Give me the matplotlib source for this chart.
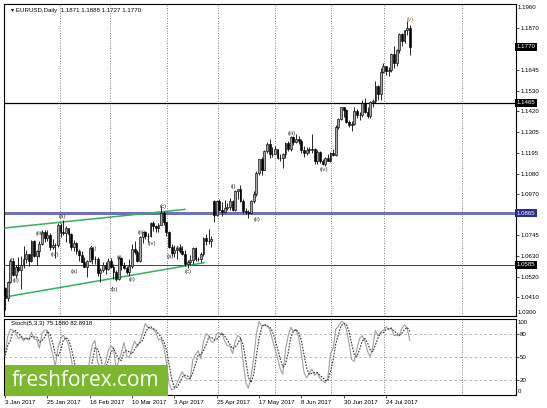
import numpy as np
import matplotlib
matplotlib.use('Agg')
from matplotlib import pyplot as plt
from matplotlib.patches import Rectangle

# EURUSD daily, 3 Jan 2017 .. 4 Aug 2017 (bar index = trading day)
close = [1.0405, 1.0490, 1.0605, 1.0530, 1.0575, 1.0555, 1.0585, 1.0615, 1.0645, 1.0605,
         1.0715, 1.0635, 1.0660, 1.0700, 1.0765, 1.0730, 1.0745, 1.0680, 1.0695, 1.0690,
         1.0800, 1.0765, 1.0760, 1.0785, 1.0750, 1.0680, 1.0705, 1.0660, 1.0640, 1.0600,
         1.0575, 1.0605, 1.0675, 1.0615, 1.0615, 1.0540, 1.0555, 1.0585, 1.0560, 1.0605,
         1.0575, 1.0545, 1.0505, 1.0620, 1.0585, 1.0570, 1.0545, 1.0580, 1.0670, 1.0655,
         1.0605, 1.0735, 1.0765, 1.0740, 1.0740, 1.0810, 1.0795, 1.0785, 1.0800, 1.0865,
         1.0815, 1.0765, 1.0680, 1.0650, 1.0665, 1.0675, 1.0660, 1.0645, 1.0590, 1.0600,
         1.0610, 1.0675, 1.0615, 1.0615, 1.0645, 1.0730, 1.0715, 1.0715, 1.0725, 1.0855,
         1.0930, 1.0880, 1.0870, 1.0895, 1.0900, 1.0930, 1.0880, 1.0985, 1.0995, 1.0930,
         1.0875, 1.0870, 1.0865, 1.0930, 1.0970, 1.1085, 1.1160, 1.1100, 1.1205, 1.1240,
         1.1185, 1.1185, 1.1215, 1.1165, 1.1165, 1.1185, 1.1245, 1.1215, 1.1280, 1.1250,
         1.1270, 1.1260, 1.1210, 1.1195, 1.1210, 1.1210, 1.1215, 1.1150, 1.1200, 1.1150,
         1.1130, 1.1165, 1.1150, 1.1195, 1.1180, 1.1335, 1.1375, 1.1440, 1.1425, 1.1360,
         1.1345, 1.1350, 1.1420, 1.1400, 1.1400, 1.1465, 1.1415, 1.1395, 1.1470, 1.1475,
         1.1555, 1.1515, 1.1635, 1.1665, 1.1640, 1.1645, 1.1730, 1.1680, 1.1750, 1.1840,
         1.1800, 1.1860, 1.1870, 1.1770]
high = [1.0465, 1.0495, 1.0615, 1.0620, 1.0585, 1.0625, 1.0630, 1.0685, 1.0665, 1.0640,
        1.0720, 1.0720, 1.0665, 1.0715, 1.0775, 1.0775, 1.0775, 1.0760, 1.0725, 1.0705,
        1.0810, 1.0810, 1.0829, 1.0795, 1.0780, 1.0755, 1.0720, 1.0710, 1.0670, 1.0660,
        1.0625, 1.0610, 1.0680, 1.0680, 1.0635, 1.0625, 1.0570, 1.0600, 1.0600, 1.0620,
        1.0620, 1.0590, 1.0555, 1.0635, 1.0625, 1.0600, 1.0580, 1.0615, 1.0700, 1.0715,
        1.0665, 1.0740, 1.0765, 1.0770, 1.0760, 1.0820, 1.0825, 1.0800, 1.0810, 1.0906,
        1.0875, 1.0815, 1.0770, 1.0700, 1.0690, 1.0680, 1.0700, 1.0685, 1.0665, 1.0610,
        1.0640, 1.0680, 1.0680, 1.0625, 1.0655, 1.0735, 1.0750, 1.0780, 1.0740, 1.0937,
        1.0935, 1.0945, 1.0925, 1.0935, 1.0920, 1.0950, 1.0935, 1.0990, 1.0995, 1.1020,
        1.0940, 1.0895, 1.0885, 1.0935, 1.0985, 1.1095, 1.1160, 1.1170, 1.1210, 1.1250,
        1.1268, 1.1225, 1.1230, 1.1215, 1.1185, 1.1190, 1.1250, 1.1255, 1.1285, 1.1285,
        1.1296, 1.1285, 1.1270, 1.1230, 1.1225, 1.1225, 1.1296, 1.1220, 1.1210, 1.1205,
        1.1160, 1.1170, 1.1185, 1.1200, 1.1215, 1.1345, 1.1385, 1.1445, 1.1440, 1.1430,
        1.1370, 1.1365, 1.1440, 1.1430, 1.1415, 1.1480, 1.1490, 1.1445, 1.1475, 1.1485,
        1.1585, 1.1560, 1.1655, 1.1680, 1.1665, 1.1660, 1.1735, 1.1775, 1.1755, 1.1845,
        1.1845, 1.1860, 1.1910, 1.1888]
low = [1.0340, 1.0390, 1.0485, 1.0525, 1.0515, 1.0545, 1.0455, 1.0570, 1.0595, 1.0580,
       1.0600, 1.0625, 1.0585, 1.0625, 1.0695, 1.0710, 1.0715, 1.0665, 1.0670, 1.0620,
       1.0680, 1.0735, 1.0745, 1.0710, 1.0705, 1.0665, 1.0660, 1.0645, 1.0605, 1.0600,
       1.0575, 1.0520, 1.0600, 1.0590, 1.0590, 1.0525, 1.0494, 1.0545, 1.0535, 1.0555,
       1.0570, 1.0510, 1.0495, 1.0500, 1.0555, 1.0560, 1.0535, 1.0525, 1.0570, 1.0645,
       1.0600, 1.0600, 1.0705, 1.0725, 1.0710, 1.0735, 1.0770, 1.0765, 1.0765, 1.0800,
       1.0800, 1.0740, 1.0675, 1.0635, 1.0625, 1.0615, 1.0650, 1.0640, 1.0580, 1.0570,
       1.0585, 1.0590, 1.0605, 1.0605, 1.0600, 1.0630, 1.0695, 1.0700, 1.0680, 1.0820,
       1.0850, 1.0875, 1.0850, 1.0865, 1.0885, 1.0885, 1.0875, 1.0875, 1.0940, 1.0925,
       1.0865, 1.0860, 1.0840, 1.0860, 1.0920, 1.0960, 1.1075, 1.1075, 1.1100, 1.1190,
       1.1165, 1.1170, 1.1185, 1.1160, 1.1150, 1.1110, 1.1165, 1.1205, 1.1205, 1.1235,
       1.1245, 1.1240, 1.1195, 1.1170, 1.1180, 1.1190, 1.1195, 1.1130, 1.1135, 1.1140,
       1.1125, 1.1120, 1.1150, 1.1145, 1.1175, 1.1175, 1.1325, 1.1370, 1.1390, 1.1355,
       1.1335, 1.1310, 1.1345, 1.1380, 1.1370, 1.1390, 1.1410, 1.1385, 1.1380, 1.1440,
       1.1465, 1.1480, 1.1480, 1.1625, 1.1615, 1.1610, 1.1630, 1.1655, 1.1665, 1.1735,
       1.1775, 1.1790, 1.1835, 1.1727]
first_open = 1.0456
gap_opens = {79: 1.0930, 153: 1.1871}

date_labels = ['3 Jan 2017', '25 Jan 2017', '16 Feb 2017', '10 Mar 2017', '3 Apr 2017',
               '25 Apr 2017', '17 May 2017', '8 Jun 2017', '30 Jun 2017', '24 Jul 2017']
date_pos = [0, 16, 32, 48, 64, 80, 96, 112, 128, 144]

price_ticks = [1.0410, 1.0520, 1.0630, 1.0745, 1.0970, 1.1080, 1.1195,
               1.1305, 1.1420, 1.1530, 1.1645, 1.1870]
levels = [1.1465, 1.0865, 1.0585]

# wave count labels (bar, price, text)
waves = [(13.2, 1.0757, '(iii)'), (19.0, 1.0640, '(iv)'), (21.5, 1.0845, '(a)'),
         (2.6, 1.0609, '(i)'), (4.0, 1.0502, '(ii)'), (26.2, 1.0551, '(a)'),
         (33.4, 1.0676, '(b)'), (41.3, 1.0453, '(b)'), (43.1, 1.0622, '(i)'),
         (48.2, 1.0506, '(ii)'), (51.7, 1.0758, '(iii)'), (55.4, 1.0702, '(iv)'),
         (59.6, 1.0899, '(c)'), (62.4, 1.0628, '(a)'), (65.8, 1.0671, '(b)'),
         (69.3, 1.0548, '(c)'), (86.2, 1.1008, '(i)'), (95.2, 1.0830, '(ii)'),
         (108.5, 1.1301, '(iii)'), (120.6, 1.1100, '(iv)'), (153.2, 1.1918, '(v)')]
trend_upper = ([0, 68], [1.0785, 1.0886])
trend_lower = ([0, 75.2], [1.0410, 1.0596])

vgrid = [20.8, 39.7, 61.2, 80.5, 102.0, 123.2, 143.2, 172.7]

opens = [first_open] + close[:-1]
for k, v in gap_opens.items():
    opens[k] = v
o = np.array(opens); h = np.array(high); l = np.array(low); c = np.array(close)
n = len(c)
x = np.arange(n)

# Stochastic 5,3,3
hh = np.array([h[max(0, i-4):i+1].max() for i in range(n)])
ll = np.array([l[max(0, i-4):i+1].min() for i in range(n)])
num = c - ll
den = hh - ll
kline = np.array([100*num[max(0, i-2):i+1].sum()/den[max(0, i-2):i+1].sum() for i in range(n)])
dline = np.array([kline[max(0, i-2):i+1].mean() for i in range(n)])

plt.rcParams['font.family'] = ['Liberation Sans', 'DejaVu Sans']
fs = 4.4

fig = plt.figure(figsize=(5.47, 4.08), dpi=100)
W, H = 547.0, 408.0
ax = fig.add_axes([4/W, 1-316/H, 512/W, 312/H])
ax2 = fig.add_axes([4/W, 1-395/H, 512/W, 76/H])

xlim = ((4-5)/2.646, (516-5)/2.646)
ax.set_xlim(xlim)
ax.set_ylim((2212.4-316)/1840, (2212.4-4)/1840)

for xv in vgrid:
    ax.axvline(xv, color='#555555', lw=0.6, ls=(0, (1, 2)), zorder=1)
    ax2.axvline(xv, color='#555555', lw=0.6, ls=(0, (1, 2)), zorder=1)

ax.axhline(levels[0], color='black', lw=0.9, zorder=2)
ax.axhline(levels[1], color='#3c3ca0', lw=1.8, zorder=2)
ax.axhline(levels[1], color='#8c8cd8', lw=0.5, zorder=2)
ax.axhline(levels[2], color='#444444', lw=0.7, zorder=2)

ax.plot(trend_upper[0], trend_upper[1], color='#33b060', lw=1.1, zorder=3)
ax.plot(trend_lower[0], trend_lower[1], color='#33b060', lw=1.1, zorder=3)

# candles
ax.vlines(x, l, h, color='black', lw=0.6, zorder=4)
up = c >= o
bot = np.minimum(o, c)
hgt = np.maximum(np.abs(c - o), 0.00015)
ax.bar(x[up], hgt[up], bottom=bot[up], width=0.7, color='#a8a8a8',
       edgecolor='black', linewidth=0.45, zorder=5)
ax.bar(x[~up], hgt[~up], bottom=bot[~up], width=0.7, color='black',
       edgecolor='black', linewidth=0.45, zorder=5)

for bx, py, t in waves:
    col = '#8a5a2a' if t == '(v)' else '#333333'
    ax.text(bx, py, t, fontsize=fs, color=col, ha='center', va='center', zorder=6)

ax.text(7/512, 1-4/312, u'\u25be EURUSD,Daily  1.1871 1.1888 1.1727 1.1770',
        transform=ax.transAxes, fontsize=fs, va='top', ha='left')

# right price scale
ax.yaxis.tick_right()
ax.set_yticks(price_ticks)
ax.set_yticklabels(['%.4f' % v for v in price_ticks])
ax.tick_params(axis='y', length=2, width=0.5, labelsize=fs, pad=1)
ax.text(1.004, 1-1/312, '1.1960', transform=ax.transAxes, fontsize=fs, va='top')
ax.text(1.004, 1/312, '1.0300', transform=ax.transAxes, fontsize=fs, va='bottom')
ax.set_xticks([])
box_col = {1.1465: 'black', 1.0865: '#2c2c90', 1.0585: 'black'}
for v in [1.1770] + levels:
    ax.text(1.002, v, '%.4f' % v, transform=ax.get_yaxis_transform(), fontsize=fs,
            color='white', va='center', ha='left', zorder=10,
            bbox=dict(boxstyle='square,pad=0.25', fc=box_col.get(v, 'black'), ec='none'))
for sp in ax.spines.values():
    sp.set_linewidth(0.8)

# stochastic panel
ax2.set_xlim(xlim)
ax2.set_ylim(0, 100)
for lv in [80, 50, 20]:
    ax2.axhline(lv, color='#aaaaaa', lw=0.6, ls=(0, (3, 3)), zorder=1)
ax2.plot(x, kline, color='#a0a0a0', lw=0.8, zorder=3)
ax2.plot(x, dline, color='#333333', lw=0.8, ls=(0, (1.5, 1.2)), zorder=3)
ax2.text(7/512, 0.97, 'Stoch(5,3,3) 75.1880 82.8918', transform=ax2.transAxes,
         fontsize=fs, va='top', ha='left', zorder=7)
ax2.yaxis.tick_right()
ax2.set_yticks([20, 50, 80])
ax2.set_yticklabels(['20', '50', '80'])
ax2.tick_params(axis='y', length=2, width=0.5, labelsize=fs, pad=1)
ax2.text(1.004, 0.99, '100', transform=ax2.transAxes, fontsize=fs, va='top')
ax2.text(1.004, 0.01, '0', transform=ax2.transAxes, fontsize=fs, va='bottom')
ax2.set_xticks(date_pos)
ax2.set_xticklabels(date_labels, ha='left')
ax2.tick_params(axis='x', length=2.5, width=0.5, labelsize=fs, pad=1.0)
for sp in ax2.spines.values():
    sp.set_linewidth(0.8)

# watermark
fig.patches.append(Rectangle((5/W, 1-396/H), 163/W, 31/H, transform=fig.transFigure,
                             facecolor='#7cb82f', edgecolor='none', zorder=20))
fig.text(86/W, 1-380/H, 'freshforex.com', fontsize=15, color='white', ha='center',
         va='center', family='Open Sans', zorder=21)

fig.savefig('out.png', dpi=100)
